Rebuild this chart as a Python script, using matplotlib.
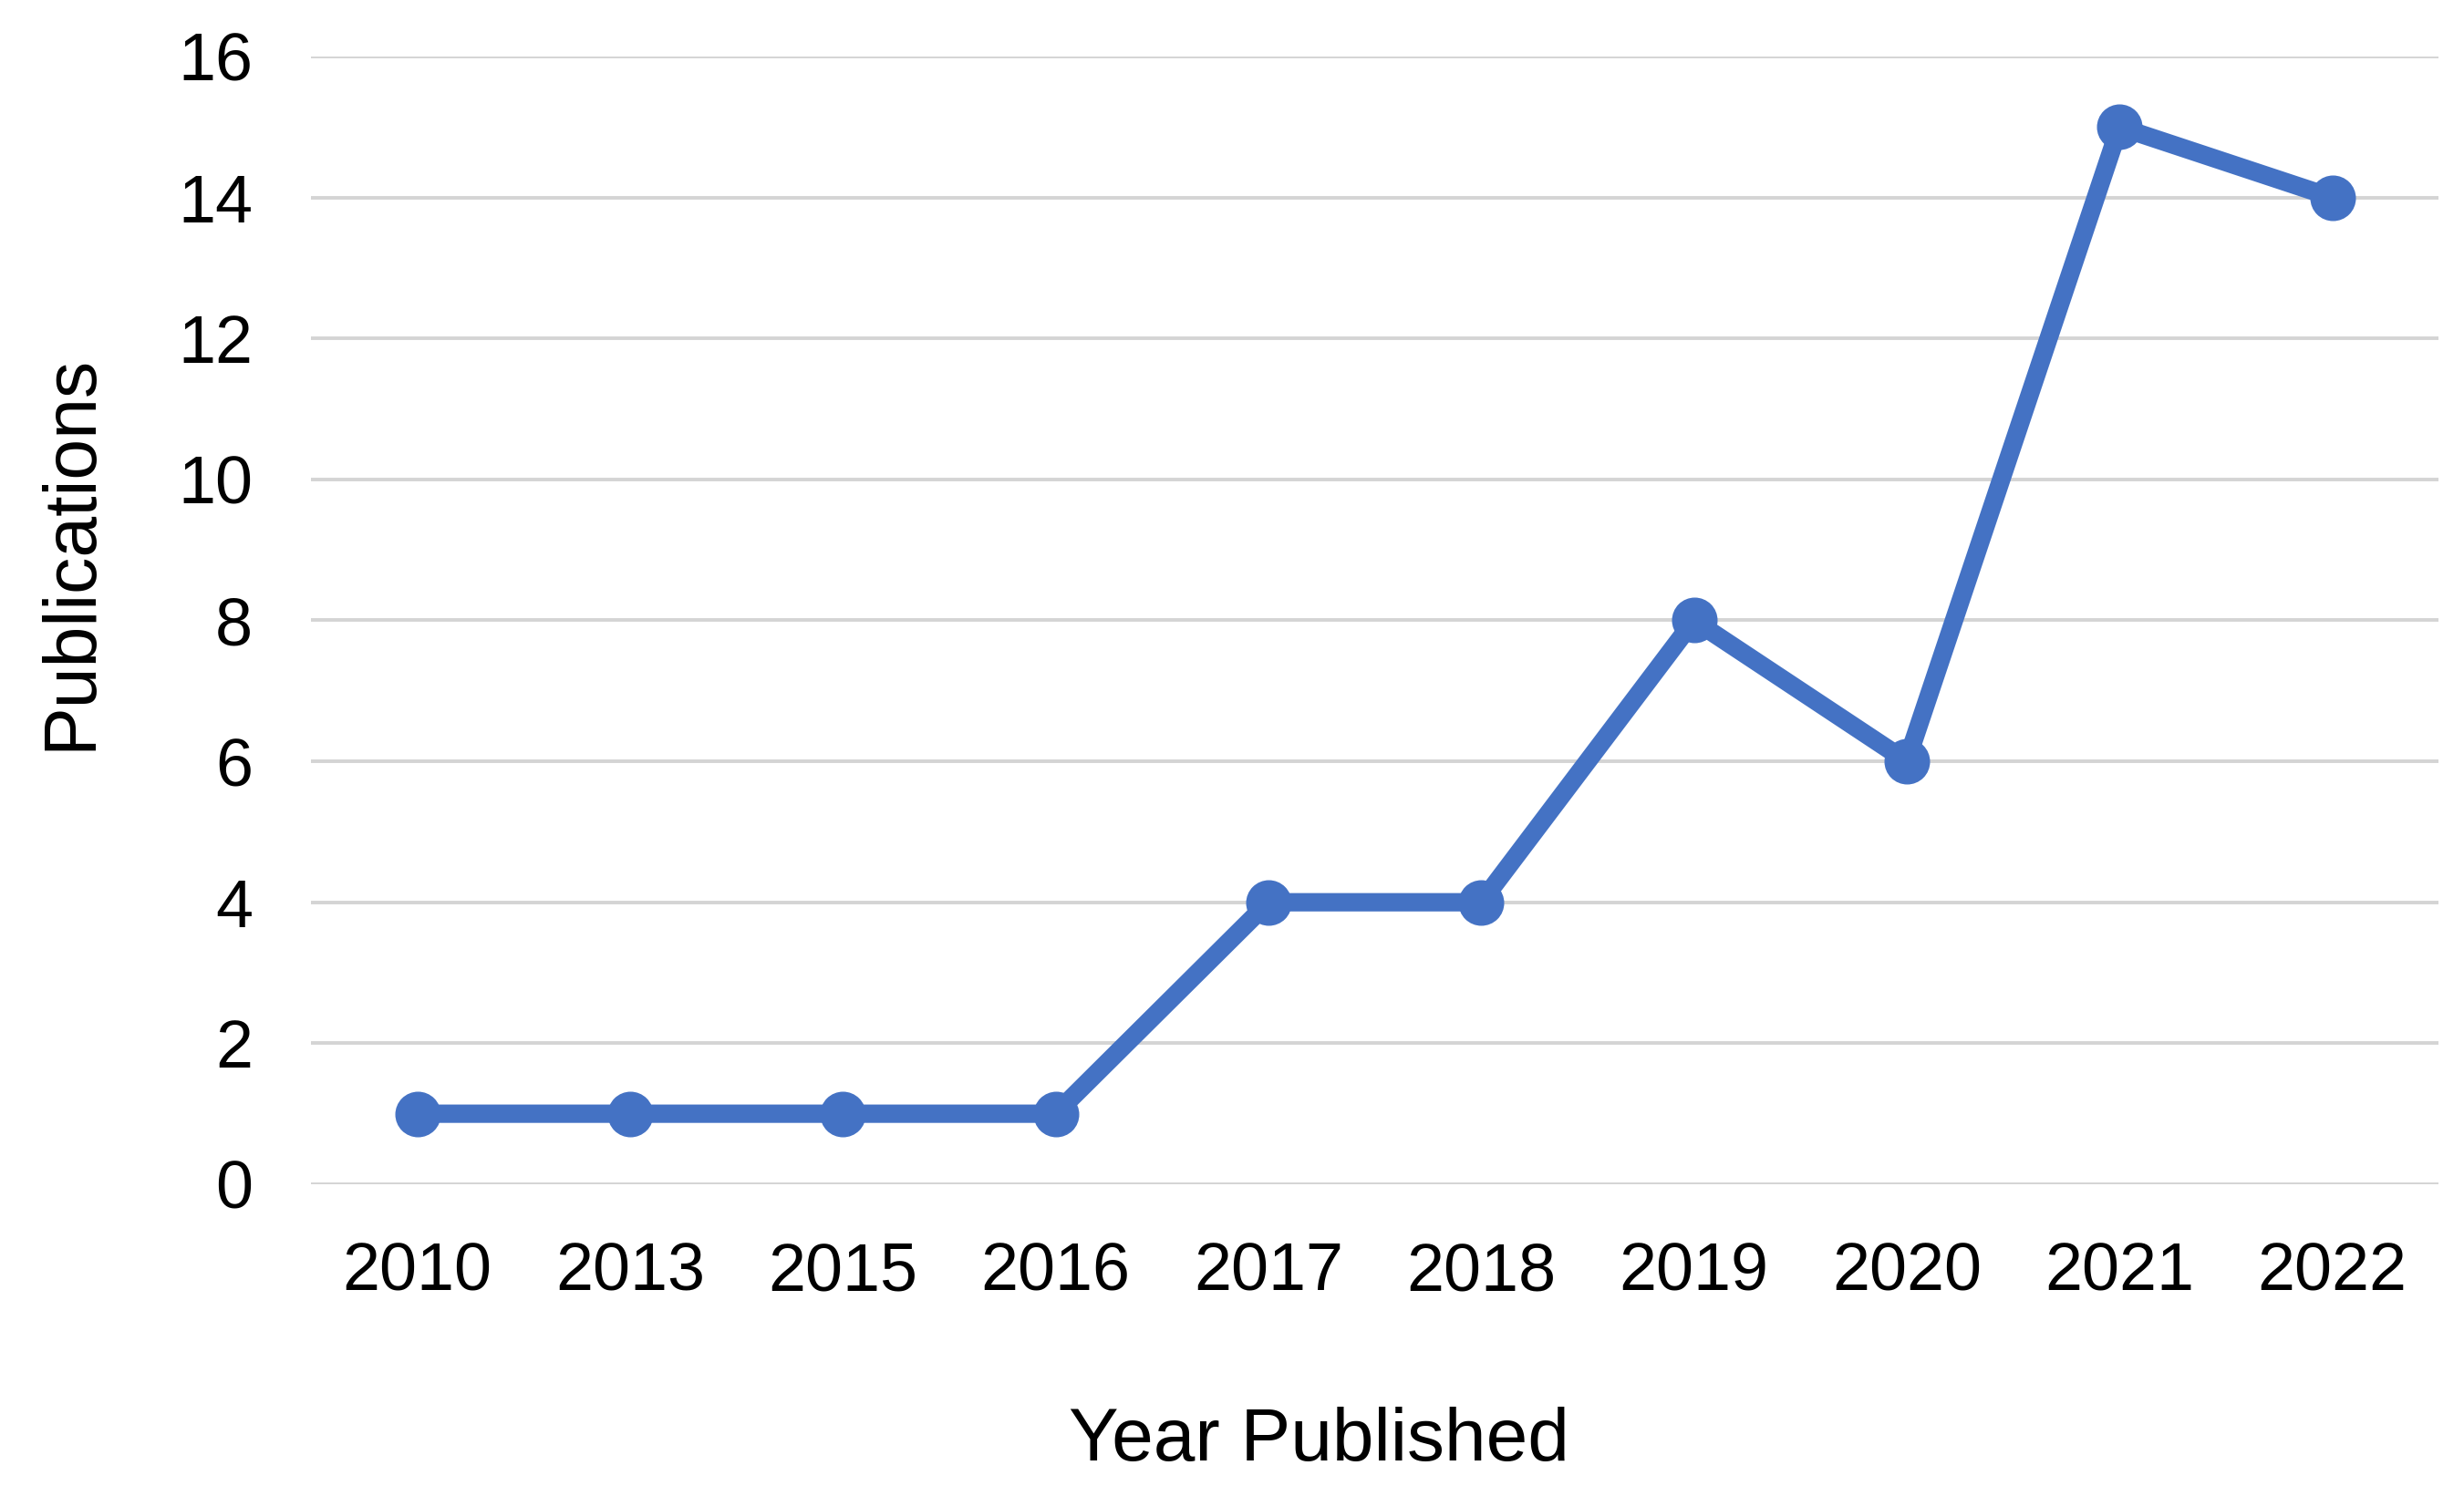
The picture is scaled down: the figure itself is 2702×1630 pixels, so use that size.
import matplotlib.pyplot as plt

plt.rcParams['font.family'] = ['Liberation Sans', 'DejaVu Sans']

# Data
years = ['2010', '2013', '2015', '2016', '2017', '2018', '2019', '2020', '2021', '2022']
publications = [1, 1, 1, 1, 4, 4, 8, 6, 15, 14]
y_ticks = [0, 2, 4, 6, 8, 10, 12, 14, 16]

blue = '#4472C4'
grid_gray = '#D4D4D4'

fig = plt.figure(figsize=(27.02, 16.30), dpi=100)
ax = fig.add_axes([0.1262, 0.2031, 0.8635, 0.7589])

x = list(range(len(years)))
ax.plot(x, publications, color=blue, lw=14.5, marker='o', markersize=35,
        solid_joinstyle='round', zorder=3)

ax.set_xlim(-0.5, len(years) - 0.5)
ax.set_ylim(0, 16)
ax.set_xticks(x)
ax.set_xticklabels(years)
ax.set_yticks(y_ticks)
ax.set_yticklabels([str(t) for t in y_ticks])

ax.tick_params(axis='both', length=0, labelsize=53, colors='black')
ax.tick_params(axis='x', pad=45)
ax.tick_params(axis='y', pad=46)

for s in ax.spines.values():
    s.set_visible(False)
ax.grid(axis='y', color=grid_gray, lw=2.8, zorder=0)
ax.set_axisbelow(True)

fig.text(0.5352, 0.030, 'Year Published', ha='center', va='center', fontsize=59)
fig.text(0.029, 0.628, 'Publications', ha='center', va='center', rotation=90, fontsize=58)

fig.savefig('out.png', dpi=100, facecolor='white')
